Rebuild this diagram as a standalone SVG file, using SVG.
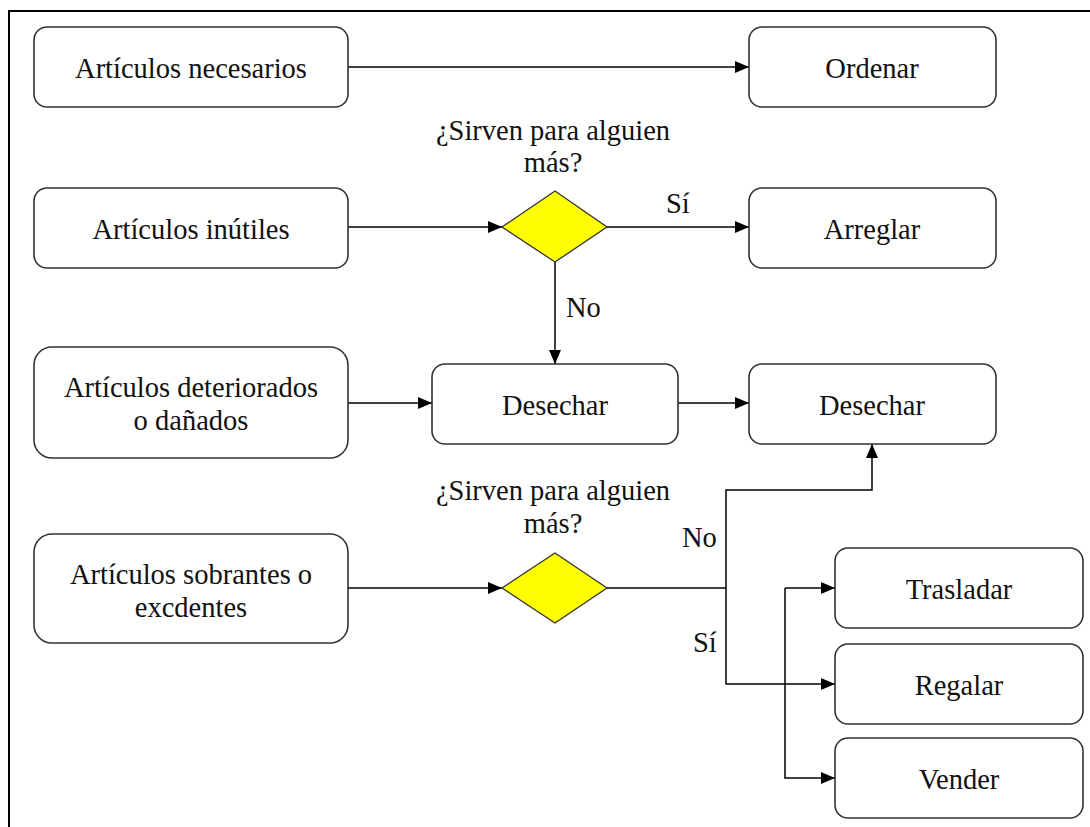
<svg xmlns="http://www.w3.org/2000/svg" width="1090" height="827" viewBox="0 0 1090 827">
  <defs>
    <marker id="arrow" viewBox="0 0 14 12" refX="14" refY="6" markerWidth="14" markerHeight="12" markerUnits="userSpaceOnUse" orient="auto">
      <path d="M0,0 L14,6 L0,12 Z" fill="#000"/>
    </marker>
    <style>
      text { font-family: 'Liberation Serif', 'Times New Roman', serif; font-size: 28.5px; fill: #111; }
      .c { text-anchor: middle; }
      .box { fill: #fff; stroke: #333; stroke-width: 1.6; }
      .dia { fill: #ffff00; stroke: #333; stroke-width: 1.3; }
      .con { fill: none; stroke: #000; stroke-width: 1.5; }
      .arr { marker-end: url(#arrow); }
    </style>
  </defs>
  <rect x="0" y="0" width="1090" height="827" fill="#fff"/>
  <!-- page frame: top and left edges -->
  <path d="M9,827 V11 H1090" fill="none" stroke="#000" stroke-width="2"/>

  <!-- connectors and branch labels -->
  <g id="connectors">
    <path class="con arr" d="M348,67 H749"/>
    <path class="con arr" d="M348,227 H502"/>
    <path class="con arr" d="M607,227 H749"/>
    <path class="con arr" d="M555,262 V364"/>
    <path class="con arr" d="M348,403 H432"/>
    <path class="con arr" d="M678,403 H749"/>
    <path class="con arr" d="M348,588 H502"/>
    <path class="con" d="M607,588 H726"/>
    <path class="con arr" d="M726,588 V490 H872 V444"/>
    <path class="con arr" d="M726,588 V684 H835"/>
    <path class="con arr" d="M785,588 V778 H835"/>
    <path class="con arr" d="M785,588 H835"/>
    <text x="666" y="213" font-family="Liberation Serif">Sí</text>
    <text x="566" y="317" font-family="Liberation Serif">No</text>
    <text x="682" y="547" font-family="Liberation Serif">No</text>
    <text x="693" y="652" font-family="Liberation Serif">Sí</text>
  </g>

  <g id="n-necesarios">
    <rect class="box" x="34" y="27" width="314" height="80" rx="13"/>
    <text class="c" x="191" y="78" font-family="Liberation Serif">Artículos necesarios</text>
  </g>
  <g id="n-ordenar">
    <rect class="box" x="749" y="27" width="247" height="80" rx="13"/>
    <text class="c" x="872" y="78" font-family="Liberation Serif">Ordenar</text>
  </g>
  <g id="n-inutiles">
    <rect class="box" x="34" y="188" width="314" height="80" rx="13"/>
    <text class="c" x="191" y="239" font-family="Liberation Serif">Artículos inútiles</text>
  </g>
  <g id="d-sirven1">
    <polygon class="dia" points="555,191 607,227 555,262 502,227"/>
    <text class="c" x="553" y="140" font-family="Liberation Serif">¿Sirven para alguien</text>
    <text class="c" x="553" y="172" font-family="Liberation Serif">más?</text>
  </g>
  <g id="n-arreglar">
    <rect class="box" x="749" y="188" width="247" height="80" rx="13"/>
    <text class="c" x="872" y="239" font-family="Liberation Serif">Arreglar</text>
  </g>
  <g id="n-deteriorados">
    <rect class="box" x="34" y="347" width="314" height="111" rx="18"/>
    <text class="c" x="191" y="397" font-family="Liberation Serif">Artículos deteriorados</text>
    <text class="c" x="191" y="430" font-family="Liberation Serif">o dañados</text>
  </g>
  <g id="n-desechar1">
    <rect class="box" x="432" y="364" width="246" height="80" rx="13"/>
    <text class="c" x="555" y="415" font-family="Liberation Serif">Desechar</text>
  </g>
  <g id="n-desechar2">
    <rect class="box" x="749" y="364" width="247" height="80" rx="13"/>
    <text class="c" x="872" y="415" font-family="Liberation Serif">Desechar</text>
  </g>
  <g id="n-sobrantes">
    <rect class="box" x="34" y="534" width="314" height="109" rx="18"/>
    <text class="c" x="191" y="584" font-family="Liberation Serif">Artículos sobrantes o</text>
    <text class="c" x="191" y="617" font-family="Liberation Serif">excdentes</text>
  </g>
  <g id="d-sirven2">
    <polygon class="dia" points="555,553 607,588 555,623 502,588"/>
    <text class="c" x="553" y="500" font-family="Liberation Serif">¿Sirven para alguien</text>
    <text class="c" x="553" y="533" font-family="Liberation Serif">más?</text>
  </g>
  <g id="n-trasladar">
    <rect class="box" x="835" y="548" width="248" height="80" rx="13"/>
    <text class="c" x="959" y="599" font-family="Liberation Serif">Trasladar</text>
  </g>
  <g id="n-regalar">
    <rect class="box" x="835" y="644" width="248" height="80" rx="13"/>
    <text class="c" x="959" y="695" font-family="Liberation Serif">Regalar</text>
  </g>
  <g id="n-vender">
    <rect class="box" x="835" y="738" width="248" height="80" rx="13"/>
    <text class="c" x="959" y="789" font-family="Liberation Serif">Vender</text>
  </g>
</svg>
